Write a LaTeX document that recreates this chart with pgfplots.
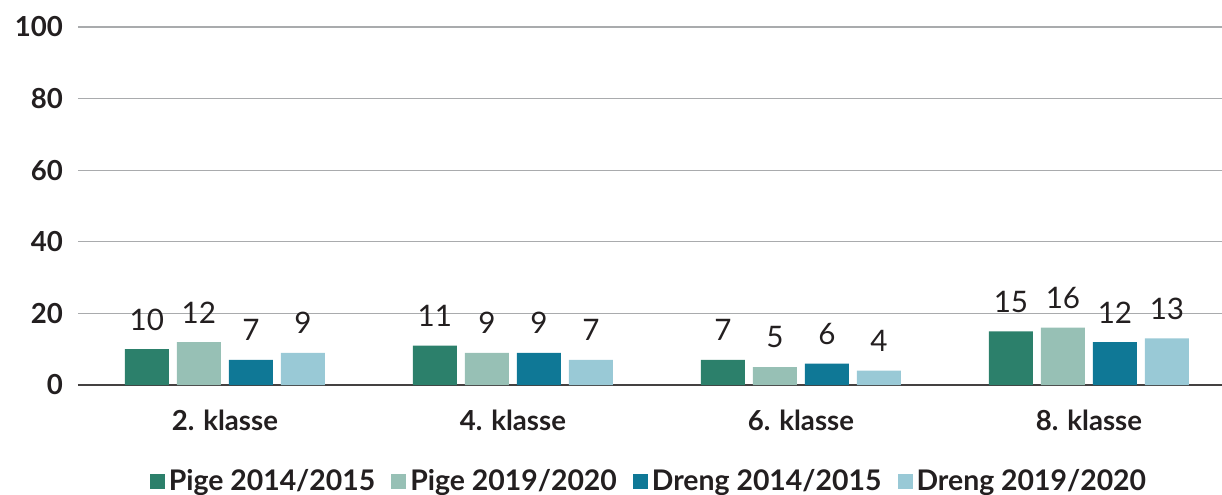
\documentclass[border=0pt]{standalone}
\usepackage{pgfplots}
\pgfplotsset{compat=1.18}
\usepackage{fontspec}
\setmainfont{Lato}
\definecolor{c1}{HTML}{2C806B}
\definecolor{c2}{HTML}{97C0B5}
\definecolor{c3}{HTML}{0F7896}
\definecolor{c4}{HTML}{99C9D6}
\definecolor{txt}{HTML}{231F20}
\definecolor{grd}{HTML}{A9ABAD}
\begin{document}
\begin{tikzpicture}
\begin{axis}[
  scale only axis, width=572pt, height=179pt,
  ymin=0, ymax=100, xmin=-0.510, xmax=3.462,
  ytick={0,20,40,60,80,100},
  xtick={0,1,2,3},
  xticklabels={2. klasse,4. klasse,6. klasse,8. klasse},
  ybar=4pt, bar width=22pt,
  axis y line*=left,
  y axis line style={draw=none},
  axis x line*=bottom,
  x axis line style={draw=txt!85, line width=0.9pt, -},
  major tick length=0pt,
  ymajorgrids, grid style={draw=grd, line width=0.6pt},
  /pgf/number format/assume math mode=true,
  tick label style={font=\fontsize{13.8}{16}\selectfont\bfseries, text=txt},
  yticklabel style={xshift=-4pt},
  xticklabel style={yshift=-9pt},
  nodes near coords,
  every node near coord/.append style={font=\fontsize{14.8}{16}\selectfont, text=txt, anchor=center, yshift=14.8pt},
  legend columns=4,
  legend style={draw=none, at={(0.5,-0.27)}, anchor=center, font=\fontsize{14.2}{16}\selectfont\bfseries, text=txt,
    /tikz/every even column/.append style={column sep=6pt}},
  legend image code/.code={\fill[#1] (0pt,-3.75pt) rectangle (7.5pt,3.75pt);},
  clip=false,
]
\addplot[fill=c1, draw=none] coordinates {(0,10) (1,11) (2,7) (3,15)};
\addplot[fill=c2, draw=none] coordinates {(0,12) (1,9) (2,5) (3,16)};
\addplot[fill=c3, draw=none] coordinates {(0,7) (1,9) (2,6) (3,12)};
\addplot[fill=c4, draw=none] coordinates {(0,9) (1,7) (2,4) (3,13)};
\legend{Pige 2014/2015, Pige 2019/2020, Dreng 2014/2015, Dreng 2019/2020}
\end{axis}
\pgfresetboundingbox
\path[use as bounding box] (-39pt,-54.5pt) rectangle (572pt,192.5pt);
\end{tikzpicture}
\end{document}
